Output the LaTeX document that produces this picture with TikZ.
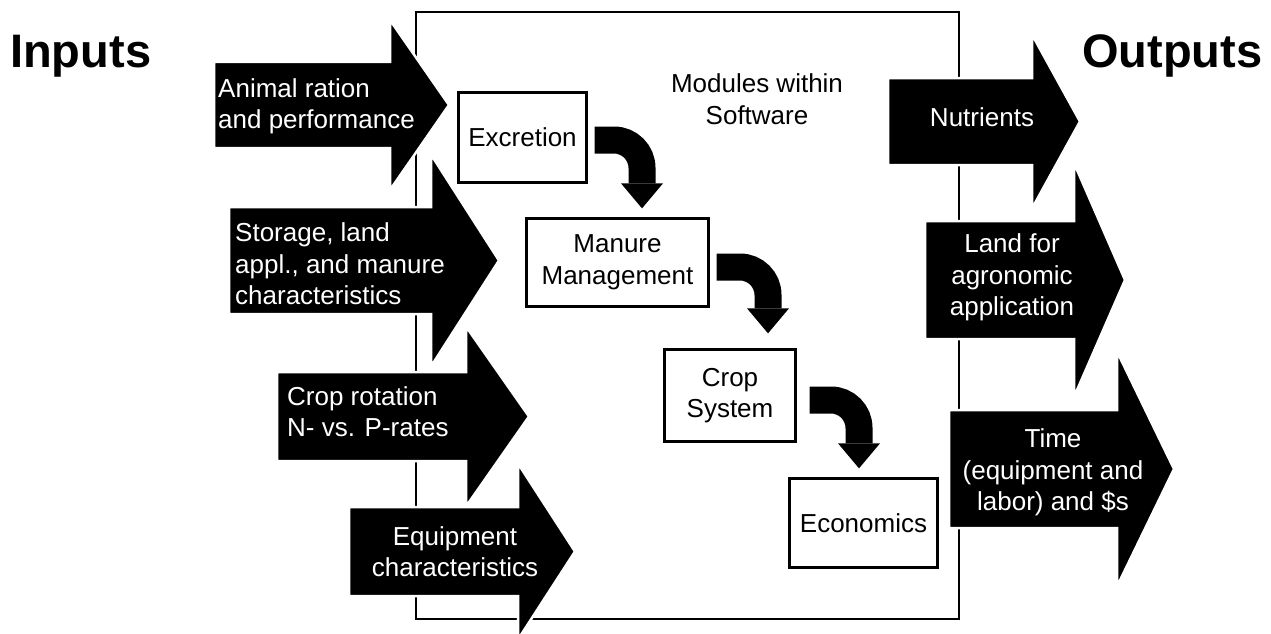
\documentclass[tikz,border=0pt]{standalone}
\usepackage{fontspec}
\setmainfont{Liberation Sans}
\usetikzlibrary{calc}
% #1 left x, #2 centre y, #3 body half height, #4 head base x, #5 head half height, #6 tip x
\newcommand\blockarrow[6]{%
  \filldraw[bigarrow] (#1,#2-#3) -- (#4,#2-#3) -- (#4,#2-#5) -- (#6,#2) -- (#4,#2+#5) -- (#4,#2+#3) -- (#1,#2+#3) -- cycle;}
\begin{document}
\begin{tikzpicture}[x=1pt,y=-1pt,
  every node/.style={inner sep=0pt, font=\fontsize{26}{31.5}\selectfont},
  bigarrow/.style={fill=black, draw=white, line width=2.5pt, line join=miter},
  intext/.style={text=white, align=left, anchor=west},
  outtext/.style={text=white, align=center},
  title/.style={font=\bfseries\fontsize{47}{56}\selectfont, anchor=base west},
  module/.style={draw=black, line width=3.3pt, align=center, fill=white},
  frame/.style={draw=black, line width=2pt},
  shaft/.style={draw=black, line width=27pt, rounded corners=28pt},
  shafthead/.style={fill=black}]
\useasboundingbox (0,0) rectangle (1271,634);

% software frame
\draw[frame] (416,12) rectangle (959,619);
\node[align=center] (modlabel) at (757,99) {Modules within\\Software};

% titles
\node[title] (inputs) at (10,67) {Inputs};
\node[title] (outputs) at (1082,67) {Outputs};

% input arrows
\blockarrow{214}{105}{43}{390}{85}{449}
\node[intext] (in1) at (218,106.5) {Animal ration\\and performance};
\blockarrow{229}{260.5}{53.5}{431}{106}{499}
\node[intext] (in2) at (235,264) {Storage, land\\appl., and manure\\characteristics};
\blockarrow{277}{416.5}{44.5}{466}{90}{529}
\node[intext] (in3) at (287,411.5) {Crop rotation\\N- vs. P-rates};
\blockarrow{349}{551.5}{44.5}{518}{88}{575}
\node[outtext] (in4) at (455,551.5) {Equipment\\characteristics};

% output arrows
\blockarrow{888}{121.5}{43.5}{1032}{87}{1080}
\node[outtext] (out1) at (982,117) {Nutrients};
\blockarrow{925}{280}{59}{1074}{117}{1125}
\node[outtext] (out2) at (1012,277.5) {Land for\\agronomic\\application};
\blockarrow{949}{469}{59}{1117}{117.5}{1174}
\node[outtext] (out3) at (1053,472.5) {Time\\(equipment and\\labor) and \$s};

% modules
\node[module, minimum width=128pt, minimum height=90pt] (exc) at (522.5,137.5) {Excretion};
\node[module, minimum width=182pt, minimum height=88pt] (man) at (617.5,262.5) {Manure\\Management};
\node[module, minimum width=131pt, minimum height=92pt] (crop) at (730,395.5) {Crop\\System};
\node[module, minimum width=148pt, minimum height=89pt] (eco) at (863.5,523) {Economics};

% curved connectors
\coordinate (c1s) at ($(exc.east)+(6.5,2.5)$);
\coordinate (c1b) at ($(man.north)+(24.5,-33.5)$);
\coordinate (c1t) at ($(man.north)+(24.5,-8.5)$);
\draw[shaft] (c1s) -| (c1b);
\fill[shafthead] ($(c1b)+(-21,0)$) -- ($(c1b)+(21,0)$) -- (c1t) -- cycle;

\coordinate (c2s) at ($(man.east)+(6.5,4.5)$);
\coordinate (c2b) at ($(crop.north)+(38,-39.5)$);
\coordinate (c2t) at ($(crop.north)+(38,-14.5)$);
\draw[shaft] (c2s) -| (c2b);
\fill[shafthead] ($(c2b)+(-21,0)$) -- ($(c2b)+(21,0)$) -- (c2t) -- cycle;

\coordinate (c3s) at ($(crop.east)+(12.5,4.5)$);
\coordinate (c3b) at ($(eco.north)+(-4.5,-33.5)$);
\coordinate (c3t) at ($(eco.north)+(-4.5,-8.5)$);
\draw[shaft] (c3s) -| (c3b);
\fill[shafthead] ($(c3b)+(-21,0)$) -- ($(c3b)+(21,0)$) -- (c3t) -- cycle;
\end{tikzpicture}
\end{document}
